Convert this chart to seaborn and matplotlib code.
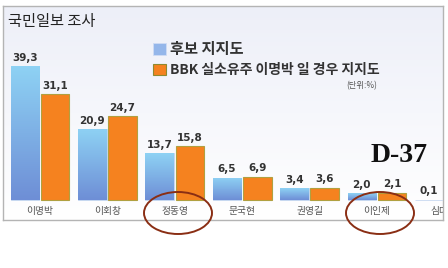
import numpy as np
import pandas as pd
import matplotlib
matplotlib.use("Agg")
import matplotlib.pyplot as plt
import seaborn as sns
from matplotlib.patches import Patch, Ellipse
from matplotlib.colors import LinearSegmentedColormap

sns.set_theme(style="white")
plt.rcParams['font.family'] = ['Noto Sans CJK KR', 'DejaVu Sans']

# ---- data ----
candidates = ["이명박", "이회창", "정동영", "문국현", "권영길", "이인제", "심대평"]
support = [39.3, 20.9, 13.7, 6.5, 3.4, 2.0, 0.1]
support_bbk = [31.1, 24.7, 15.8, 6.9, 3.6, 2.1, 0.1]
series_names = ["후보 지지도", "BBK 실소유주 이명박 일 경우 지지도"]
title_text = "국민일보 조사"
unit_text = "(단위:%)"
stamp_text = "D-37"

rows = []
for c, a, b in zip(candidates, support, support_bbk):
    rows.append({"cand": c, "series": series_names[0], "value": a})
    rows.append({"cand": c, "series": series_names[1], "value": b})
df = pd.DataFrame(rows)

blue_c = "#86B4EA"
orange_c = "#F5821F"

fig = plt.figure(figsize=(4.48, 2.68), dpi=100)
fig.patch.set_facecolor("white")
W, H = 448, 268
ax = fig.add_axes([3 / W, (H - 220) / H, 440 / W, 214 / H])

sns.barplot(data=df, x="cand", y="value", hue="series", order=candidates,
            hue_order=series_names, palette=[blue_c, orange_c], width=0.9,
            gap=0.06, saturation=1, legend=False, ax=ax, zorder=3)

pxu = 3.4
xlim = (-0.55, 5.98)

# background gradient
bg = np.linspace(0, 1, 256).reshape(-1, 1)
bg_cmap = LinearSegmentedColormap.from_list("bg", ["#FFFFFF", "#EDEFF8"])
ax.imshow(bg, cmap=bg_cmap, aspect="auto", extent=[0, 1, 1, 0],
          transform=ax.transAxes, zorder=0)

blue_cmap = LinearSegmentedColormap.from_list("bl", ["#6E8ED6", "#8ED2F4"])
n = len(candidates)
for i, p in enumerate(ax.patches[:2 * n]):
    x0, y0 = p.get_x(), p.get_y()
    w, h = p.get_width(), p.get_height()
    if i < n:
        p.set_edgecolor("#C8D8F0")
        p.set_linewidth(0.6)
        grad = np.linspace(0, 1, 128).reshape(-1, 1)
        im = ax.imshow(grad, cmap=blue_cmap, aspect="auto",
                       extent=[x0, x0 + w, y0, y0 + h], origin="lower", zorder=3.5)
        im.set_clip_path(p)
    else:
        p.set_edgecolor("#B0A040")
        p.set_linewidth(0.8)
    if x0 + w / 2 < xlim[1] - 0.1:
        ax.text(x0 + w / 2, y0 + h + 1.0, f"{h:.1f}".replace(".", ","),
                ha="center", va="bottom", fontsize=7.5, color="#333333",
                family="DejaVu Sans", fontweight="bold", zorder=5, clip_on=True)

ax.set_xlim(*xlim)
ax.set_ylim(-20 / pxu, 194 / pxu)

# category labels inside the frame
for i, c in enumerate(candidates):
    ax.text(i, -11 / pxu, c, ha="center", va="center", fontsize=7,
            color="#555555", zorder=5, clip_on=True)

ax.set_xticks([])
ax.set_yticks([])
ax.set_xlabel("")
ax.set_ylabel("")
for s in ax.spines.values():
    s.set_color("#B4B4B4")
    s.set_linewidth(1.0)

# title
fig.text(8 / W, 1 - 21 / H, title_text, fontsize=11, color="#222222",
         ha="left", va="center")

# legend
handles = [Patch(facecolor="#94B6EA", edgecolor="#D0DCF4", lw=0.6),
           Patch(facecolor=orange_c, edgecolor="#8E8A30", lw=0.8)]
leg = fig.legend(handles, series_names, loc="upper left",
                 bbox_to_anchor=(153 / W, 1 - 41 / H), frameon=False,
                 handlelength=0.9, handleheight=0.9, handletextpad=0.35,
                 labelspacing=0.45, borderpad=0, borderaxespad=0,
                 prop={"weight": "bold", "size": 10})
texts = leg.get_texts()
texts[0].set_fontsize(11)
for t in texts:
    t.set_color("#333333")

fig.text(377 / W, 1 - 86 / H, unit_text, fontsize=6, color="#555555",
         ha="right", va="center")

fig.text(399 / W, 1 - 155 / H, stamp_text, fontsize=20, fontweight="bold",
         family="Liberation Serif", color="#111111", ha="center", va="center")

# circles around names (figure pixel coords)
for cx, cy in [(178, 213), (380, 213)]:
    e = Ellipse((cx / W, 1 - cy / H), 68 / W, 42 / H, transform=fig.transFigure,
                fill=False, edgecolor="#8A2E14", lw=1.4, zorder=10)
    fig.add_artist(e)

fig.savefig("out.png", dpi=100)
